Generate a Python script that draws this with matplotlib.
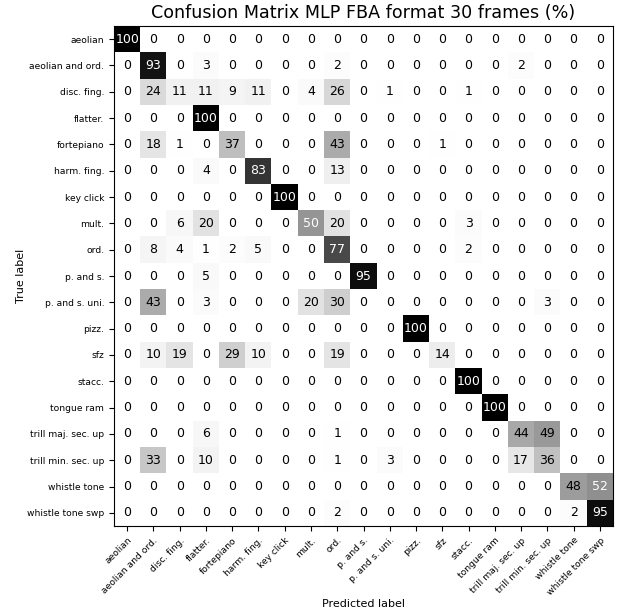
import numpy as np
import matplotlib
matplotlib.use("Agg")
import matplotlib.pyplot as plt

labels = ["aeolian", "aeolian and ord.", "disc. fing.", "flatter.", "fortepiano",
          "harm. fing.", "key click", "mult.", "ord.", "p. and s.", "p. and s. uni.",
          "pizz.", "sfz", "stacc.", "tongue ram", "trill maj. sec. up",
          "trill min. sec. up", "whistle tone", "whistle tone swp"]

row_aeolian = [100, 0, 0, 0, 0, 0, 0, 0, 0, 0, 0, 0, 0, 0, 0, 0, 0, 0, 0]
row_aeolian_ord = [0, 93, 0, 3, 0, 0, 0, 0, 2, 0, 0, 0, 0, 0, 0, 2, 0, 0, 0]
row_disc = [0, 24, 11, 11, 9, 11, 0, 4, 26, 0, 1, 0, 0, 1, 0, 0, 0, 0, 0]
row_flatter = [0, 0, 0, 100, 0, 0, 0, 0, 0, 0, 0, 0, 0, 0, 0, 0, 0, 0, 0]
row_forte = [0, 18, 1, 0, 37, 0, 0, 0, 43, 0, 0, 0, 1, 0, 0, 0, 0, 0, 0]
row_harm = [0, 0, 0, 4, 0, 83, 0, 0, 13, 0, 0, 0, 0, 0, 0, 0, 0, 0, 0]
row_key = [0, 0, 0, 0, 0, 0, 100, 0, 0, 0, 0, 0, 0, 0, 0, 0, 0, 0, 0]
row_mult = [0, 0, 6, 20, 0, 0, 0, 50, 20, 0, 0, 0, 0, 3, 0, 0, 0, 0, 0]
row_ord = [0, 8, 4, 1, 2, 5, 0, 0, 77, 0, 0, 0, 0, 2, 0, 0, 0, 0, 0]
row_ps = [0, 0, 0, 5, 0, 0, 0, 0, 0, 95, 0, 0, 0, 0, 0, 0, 0, 0, 0]
row_psuni = [0, 43, 0, 3, 0, 0, 0, 20, 30, 0, 0, 0, 0, 0, 0, 0, 3, 0, 0]
row_pizz = [0, 0, 0, 0, 0, 0, 0, 0, 0, 0, 0, 100, 0, 0, 0, 0, 0, 0, 0]
row_sfz = [0, 10, 19, 0, 29, 10, 0, 0, 19, 0, 0, 0, 14, 0, 0, 0, 0, 0, 0]
row_stacc = [0, 0, 0, 0, 0, 0, 0, 0, 0, 0, 0, 0, 0, 100, 0, 0, 0, 0, 0]
row_tongue = [0, 0, 0, 0, 0, 0, 0, 0, 0, 0, 0, 0, 0, 0, 100, 0, 0, 0, 0]
row_trill_maj = [0, 0, 0, 6, 0, 0, 0, 0, 1, 0, 0, 0, 0, 0, 0, 44, 49, 0, 0]
row_trill_min = [0, 33, 0, 10, 0, 0, 0, 0, 1, 0, 3, 0, 0, 0, 0, 17, 36, 0, 0]
row_whistle = [0, 0, 0, 0, 0, 0, 0, 0, 0, 0, 0, 0, 0, 0, 0, 0, 0, 48, 52]
row_whistle_swp = [0, 0, 0, 0, 0, 0, 0, 0, 2, 0, 0, 0, 0, 0, 0, 0, 0, 2, 95]

cm = np.array([row_aeolian, row_aeolian_ord, row_disc, row_flatter, row_forte,
               row_harm, row_key, row_mult, row_ord, row_ps, row_psuni, row_pizz,
               row_sfz, row_stacc, row_tongue, row_trill_maj, row_trill_min,
               row_whistle, row_whistle_swp], dtype=float)

cmap = plt.cm.Greys
fig = plt.figure(figsize=(6.25, 6.15), dpi=100)
ax = fig.add_axes([114 / 625, 1 - 526 / 615, 499 / 625, 500 / 615])
ax.imshow(cm, cmap=cmap, vmin=0, vmax=100, interpolation="nearest", aspect="auto")

# white text on the dark cells, like sklearn's display
thresh = (cm.max() + cm.min()) / 2
for i in range(cm.shape[0]):
    for j in range(cm.shape[1]):
        color = cmap(0.0) if cm[i, j] >= thresh else cmap(1.0)
        ax.text(j, i, f"{cm[i, j]:.0f}", ha="center", va="center",
                color=color, fontsize=9)

n = len(labels)
ax.set_xticks(range(n))
ax.set_yticks(range(n))
ax.set_xticklabels(labels, rotation=45, ha="right", rotation_mode="anchor", fontsize=6.6)
ax.set_yticklabels(labels, fontsize=6.6)
ax.set_xlabel("Predicted label", fontsize=8, labelpad=2)
ax.set_ylabel("True label", fontsize=8, labelpad=1)
ax.set_title("Confusion Matrix MLP FBA format 30 frames (%)", fontsize=12.6)

fig.savefig("out.png", dpi=100)
